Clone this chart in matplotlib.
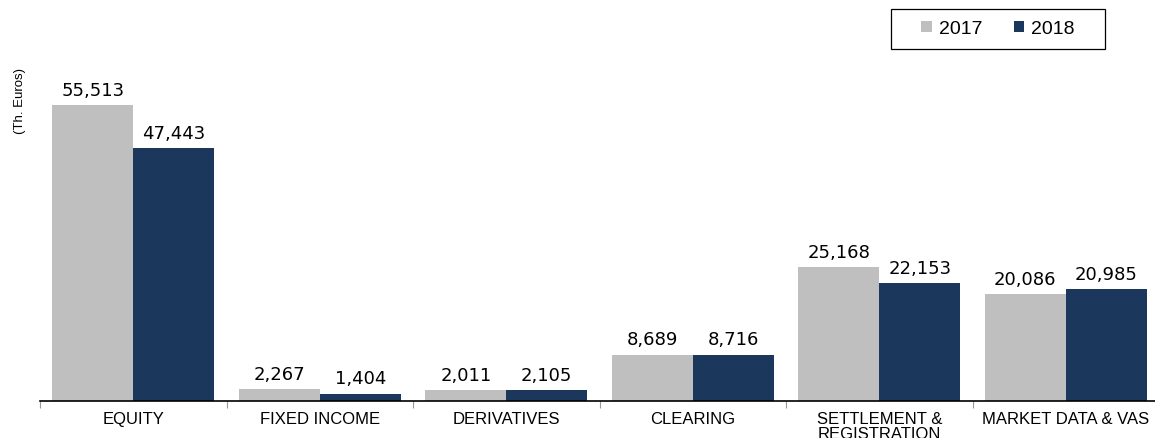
import matplotlib
matplotlib.use("Agg")
import matplotlib.pyplot as plt
from matplotlib.patches import Patch, Rectangle
import numpy as np

categories = ["EQUITY", "FIXED INCOME", "DERIVATIVES", "CLEARING", "SETTLEMENT &\nREGISTRATION", "MARKET DATA & VAS"]
values_2017 = [55513, 2267, 2011, 8689, 25168, 20086]
values_2018 = [47443, 1404, 2105, 8716, 22153, 20985]
series_names = ["2017", "2018"]
colors = ["#BFBFBF", "#1B375C"]

W, H = 1155, 439
fig = plt.figure(figsize=(W/100, H/100), dpi=100)
ax = fig.add_axes([40/W, 1-402/H, 1119/W, 352/H])

x = np.arange(len(categories))
bw = 0.434
for vals, off, col in [(values_2017, -bw/2, colors[0]), (values_2018, bw/2, colors[1])]:
    bars = ax.bar(x + off, vals, width=bw, color=col, edgecolor="none")
    for b, v in zip(bars, vals):
        ax.annotate(f"{v:,}", (b.get_x() + b.get_width()/2, v), xytext=(0, 4.5),
                    textcoords="offset points", ha="center", va="bottom",
                    fontsize=13, family="DejaVu Sans", color="black")

ax.set_xlim(-0.5, len(categories) - 0.5)
ax.set_ylim(0, 66000)
for s in ["top", "right", "left"]:
    ax.spines[s].set_visible(False)
ax.spines["bottom"].set_color("black")
ax.spines["bottom"].set_linewidth(1.2)
ax.set_yticks([])
ax.set_xticks(np.arange(-0.5, len(categories)))
ax.set_xticklabels([])
ax.tick_params(axis="x", length=5, color="#999999", width=0.8)
for i, c in enumerate(categories):
    ax.text(i, -1900, c, ha="center", va="top", fontsize=12,
            family="Liberation Sans", color="black", linespacing=1.0)

fig.text(20/W, 1-101/H, "(Th. Euros)", rotation=90, ha="center", va="center",
         fontsize=9.5, family="Liberation Sans")

# legend box
fig.patches.append(Rectangle((891/W, 1-50/H), 214/W, 40/H, transform=fig.transFigure,
                             facecolor="white", edgecolor="black", linewidth=0.9, zorder=5))
handles = [Patch(facecolor=c, edgecolor="none") for c in colors]
leg = fig.legend(handles, series_names, loc="center", bbox_to_anchor=(998/W, 1-30/H),
                 ncol=2, frameon=False,
                 prop={"family": "Liberation Sans", "size": 14},
                 handlelength=0.55, handleheight=0.55, handletextpad=0.35,
                 columnspacing=1.6, borderpad=0, borderaxespad=0)
leg.set_zorder(6)

fig.savefig("out.png", dpi=100)
